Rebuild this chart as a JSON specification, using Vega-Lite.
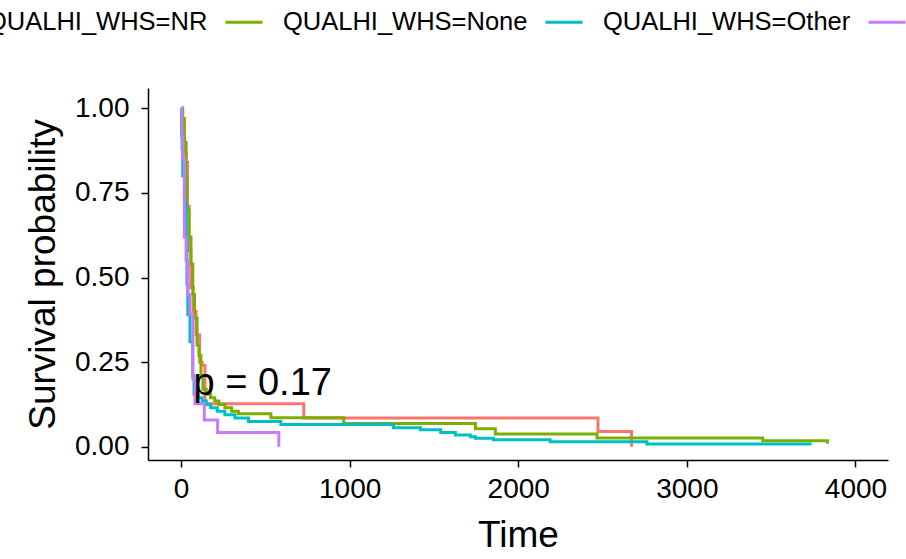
{
  "$schema": "https://vega.github.io/schema/vega-lite/v6.json",
  "width": 740,
  "height": 372,
  "autosize": {"type": "none"},
  "padding": {"left": 148, "top": 88, "right": 18, "bottom": 99},
  "background": "white",
  "config": {
    "font": "Liberation Sans",
    "view": {"stroke": null},
    "axis": {
      "grid": false,
      "domainColor": "black",
      "domainWidth": 1.5,
      "tickColor": "black",
      "tickWidth": 1.5,
      "tickSize": 7,
      "labelColor": "black",
      "labelFontSize": 28,
      "labelFont": "Liberation Sans",
      "titleColor": "black",
      "titleFontSize": 37,
      "titleFont": "Liberation Sans",
      "titleFontWeight": "normal"
    }
  },
  "layer": [
    {
      "data": {
        "values": [
          {"group": "QUALHI_WHS=NR", "time": 0, "surv": 1.0},
          {"group": "QUALHI_WHS=NR", "time": 8, "surv": 0.96},
          {"group": "QUALHI_WHS=NR", "time": 14, "surv": 0.91},
          {"group": "QUALHI_WHS=NR", "time": 22, "surv": 0.87},
          {"group": "QUALHI_WHS=NR", "time": 30, "surv": 0.84},
          {"group": "QUALHI_WHS=NR", "time": 38, "surv": 0.71},
          {"group": "QUALHI_WHS=NR", "time": 48, "surv": 0.58},
          {"group": "QUALHI_WHS=NR", "time": 58, "surv": 0.47},
          {"group": "QUALHI_WHS=NR", "time": 72, "surv": 0.4},
          {"group": "QUALHI_WHS=NR", "time": 89, "surv": 0.33},
          {"group": "QUALHI_WHS=NR", "time": 110, "surv": 0.25},
          {"group": "QUALHI_WHS=NR", "time": 125, "surv": 0.24},
          {"group": "QUALHI_WHS=NR", "time": 142, "surv": 0.127},
          {"group": "QUALHI_WHS=NR", "time": 728, "surv": 0.085},
          {"group": "QUALHI_WHS=NR", "time": 2473, "surv": 0.045},
          {"group": "QUALHI_WHS=NR", "time": 2672, "surv": 0.0},

          {"group": "QUALHI_WHS=None", "time": 0, "surv": 1.0},
          {"group": "QUALHI_WHS=None", "time": 10, "surv": 0.97},
          {"group": "QUALHI_WHS=None", "time": 20, "surv": 0.9},
          {"group": "QUALHI_WHS=None", "time": 30, "surv": 0.8},
          {"group": "QUALHI_WHS=None", "time": 35, "surv": 0.7},
          {"group": "QUALHI_WHS=None", "time": 47, "surv": 0.62},
          {"group": "QUALHI_WHS=None", "time": 59, "surv": 0.54},
          {"group": "QUALHI_WHS=None", "time": 70, "surv": 0.45},
          {"group": "QUALHI_WHS=None", "time": 80, "surv": 0.38},
          {"group": "QUALHI_WHS=None", "time": 95, "surv": 0.3},
          {"group": "QUALHI_WHS=None", "time": 106, "surv": 0.27},
          {"group": "QUALHI_WHS=None", "time": 118, "surv": 0.21},
          {"group": "QUALHI_WHS=None", "time": 130, "surv": 0.17},
          {"group": "QUALHI_WHS=None", "time": 150, "surv": 0.155},
          {"group": "QUALHI_WHS=None", "time": 175, "surv": 0.145},
          {"group": "QUALHI_WHS=None", "time": 200, "surv": 0.135},
          {"group": "QUALHI_WHS=None", "time": 225, "surv": 0.125},
          {"group": "QUALHI_WHS=None", "time": 260, "surv": 0.115},
          {"group": "QUALHI_WHS=None", "time": 300, "surv": 0.105},
          {"group": "QUALHI_WHS=None", "time": 340, "surv": 0.098},
          {"group": "QUALHI_WHS=None", "time": 533, "surv": 0.086},
          {"group": "QUALHI_WHS=None", "time": 965, "surv": 0.069},
          {"group": "QUALHI_WHS=None", "time": 1746, "surv": 0.053},
          {"group": "QUALHI_WHS=None", "time": 1864, "surv": 0.038},
          {"group": "QUALHI_WHS=None", "time": 2467, "surv": 0.026},
          {"group": "QUALHI_WHS=None", "time": 3450, "surv": 0.018},
          {"group": "QUALHI_WHS=None", "time": 3834, "surv": 0.009},

          {"group": "QUALHI_WHS=Other", "time": 0, "surv": 1.0},
          {"group": "QUALHI_WHS=Other", "time": 3, "surv": 0.92},
          {"group": "QUALHI_WHS=Other", "time": 6, "surv": 0.88},
          {"group": "QUALHI_WHS=Other", "time": 10, "surv": 0.8},
          {"group": "QUALHI_WHS=Other", "time": 20, "surv": 0.72},
          {"group": "QUALHI_WHS=Other", "time": 30, "surv": 0.62},
          {"group": "QUALHI_WHS=Other", "time": 35, "surv": 0.48},
          {"group": "QUALHI_WHS=Other", "time": 40, "surv": 0.39},
          {"group": "QUALHI_WHS=Other", "time": 53, "surv": 0.31},
          {"group": "QUALHI_WHS=Other", "time": 69, "surv": 0.21},
          {"group": "QUALHI_WHS=Other", "time": 77, "surv": 0.155},
          {"group": "QUALHI_WHS=Other", "time": 100, "surv": 0.145},
          {"group": "QUALHI_WHS=Other", "time": 125, "surv": 0.135},
          {"group": "QUALHI_WHS=Other", "time": 150, "surv": 0.125},
          {"group": "QUALHI_WHS=Other", "time": 175, "surv": 0.115},
          {"group": "QUALHI_WHS=Other", "time": 215, "surv": 0.105},
          {"group": "QUALHI_WHS=Other", "time": 260, "surv": 0.095},
          {"group": "QUALHI_WHS=Other", "time": 320, "surv": 0.085},
          {"group": "QUALHI_WHS=Other", "time": 400, "surv": 0.075},
          {"group": "QUALHI_WHS=Other", "time": 592, "surv": 0.066},
          {"group": "QUALHI_WHS=Other", "time": 1260, "surv": 0.056},
          {"group": "QUALHI_WHS=Other", "time": 1420, "surv": 0.05},
          {"group": "QUALHI_WHS=Other", "time": 1540, "surv": 0.042},
          {"group": "QUALHI_WHS=Other", "time": 1627, "surv": 0.035},
          {"group": "QUALHI_WHS=Other", "time": 1716, "surv": 0.03},
          {"group": "QUALHI_WHS=Other", "time": 1746, "surv": 0.025},
          {"group": "QUALHI_WHS=Other", "time": 1852, "surv": 0.021},
          {"group": "QUALHI_WHS=Other", "time": 2189, "surv": 0.015},
          {"group": "QUALHI_WHS=Other", "time": 2763, "surv": 0.008},
          {"group": "QUALHI_WHS=Other", "time": 3740, "surv": 0.008},

          {"group": "QUALHI_WHS=Unknown", "time": 0, "surv": 1.0},
          {"group": "QUALHI_WHS=Unknown", "time": 5, "surv": 0.92},
          {"group": "QUALHI_WHS=Unknown", "time": 10, "surv": 0.85},
          {"group": "QUALHI_WHS=Unknown", "time": 20, "surv": 0.62},
          {"group": "QUALHI_WHS=Unknown", "time": 30, "surv": 0.55},
          {"group": "QUALHI_WHS=Unknown", "time": 40, "surv": 0.45},
          {"group": "QUALHI_WHS=Unknown", "time": 53, "surv": 0.39},
          {"group": "QUALHI_WHS=Unknown", "time": 70, "surv": 0.2},
          {"group": "QUALHI_WHS=Unknown", "time": 83, "surv": 0.127},
          {"group": "QUALHI_WHS=Unknown", "time": 138, "surv": 0.079},
          {"group": "QUALHI_WHS=Unknown", "time": 217, "surv": 0.042},
          {"group": "QUALHI_WHS=Unknown", "time": 580, "surv": 0.0}
        ]
      },
      "mark": {"type": "line", "interpolate": "step-after", "strokeWidth": 3},
      "encoding": {
        "x": {
          "field": "time",
          "type": "quantitative",
          "title": "Time",
          "scale": {"domain": [-196, 4193], "nice": false, "zero": false},
          "axis": {"values": [0, 1000, 2000, 3000, 4000], "format": "d", "labelPadding": 8, "titlePadding": 14}
        },
        "y": {
          "field": "surv",
          "type": "quantitative",
          "title": "Survival probability",
          "scale": {"domain": [-0.039, 1.06], "nice": false, "zero": false},
          "axis": {"values": [0, 0.25, 0.5, 0.75, 1], "format": ".2f", "labelPadding": 12, "titlePadding": 12}
        },
        "color": {
          "field": "group",
          "type": "nominal",
          "scale": {
            "domain": ["QUALHI_WHS=NR", "QUALHI_WHS=None", "QUALHI_WHS=Other", "QUALHI_WHS=Unknown"],
            "range": ["#F8766D", "#7CAE00", "#00BFC4", "#C77CFF"]
          },
          "legend": {
            "title": null,
            "orient": "none",
            "direction": "horizontal",
            "legendX": -220,
            "legendY": -86,
            "padding": 0,
            "symbolType": "stroke",
            "symbolSize": 1369,
            "symbolStrokeWidth": 3,
            "labelFontSize": 25.5,
            "labelColor": "black",
            "labelFont": "Liberation Sans",
            "labelOffset": 19,
            "columnPadding": 11,
            "labelLimit": 400
          }
        }
      }
    },
    {
      "data": {"values": [{"time": 74, "surv": 0.153, "label": "p = 0.17"}]},
      "mark": {"type": "text", "align": "left", "baseline": "alphabetic", "fontSize": 38, "font": "Liberation Sans", "color": "black"},
      "encoding": {
        "x": {"field": "time", "type": "quantitative"},
        "y": {"field": "surv", "type": "quantitative"},
        "text": {"field": "label"}
      }
    }
  ]
}
